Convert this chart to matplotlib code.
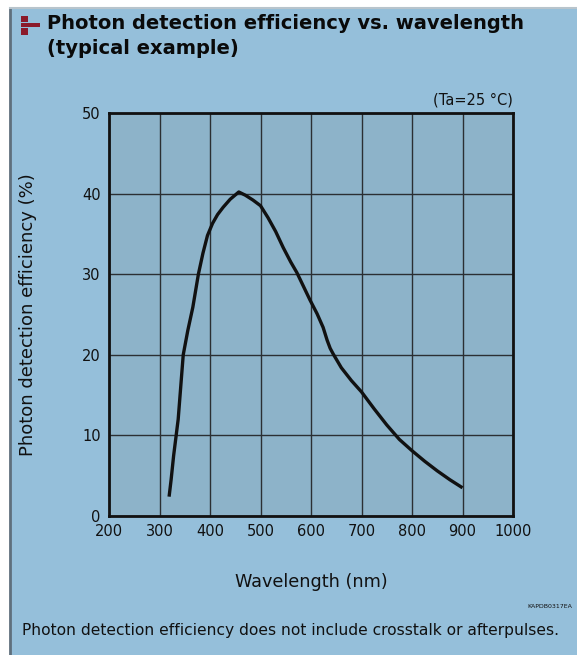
import numpy as np
import matplotlib
matplotlib.use("Agg")
import matplotlib.pyplot as plt
from matplotlib.patches import Rectangle

# data
wavelength = [319, 323, 328, 333, 337, 342, 347, 356, 366, 377, 386, 395, 405,
              415, 426, 440, 457, 470, 485, 500, 515, 530, 545, 560, 572, 585,
              598, 612, 624, 632, 638, 644, 660, 680, 700, 725, 750, 775, 800,
              825, 850, 875, 900]
pde = [2.4, 4.5, 7.5, 10.0, 12.0, 16.0, 20.0, 23.0, 25.9, 30.0, 32.6, 34.8, 36.3,
       37.4, 38.3, 39.3, 40.2, 39.8, 39.2, 38.5, 37.0, 35.3, 33.3, 31.5, 30.2, 28.5,
       26.8, 25.1, 23.4, 21.8, 20.8, 20.1, 18.4, 16.8, 15.4, 13.3, 11.3, 9.5, 8.1,
       6.8, 5.6, 4.5, 3.5]

x_ticks = [200, 300, 400, 500, 600, 700, 800, 900, 1000]
y_ticks = [0, 10, 20, 30, 40, 50]

title = "Photon detection efficiency vs. wavelength\n(typical example)"
note = "Photon detection efficiency does not include crosstalk or afterpulses."

W, H = 577, 655
panel_color = "#95bfda"
plot_color = "#8db3c9"

fig = plt.figure(figsize=(W / 100, H / 100), dpi=100)
fig.patch.set_facecolor("white")


def px(x, y):
    return x / W, 1 - y / H


# background panel and frame lines
fig.patches.append(Rectangle((10 / W, 0), 1, 1 - 8 / H, transform=fig.transFigure,
                             facecolor=panel_color, edgecolor="none", zorder=-10))
fig.lines.append(plt.Line2D([10 / W, 10 / W], [0, 1 - 8 / H], transform=fig.transFigure,
                            color="#5f6f7c", lw=2))
fig.lines.append(plt.Line2D([10 / W, 1], [1 - 8 / H, 1 - 8 / H], transform=fig.transFigure,
                            color="#b8c4cc", lw=1.5))

# little red icon beside the title (three blocks with thin gaps)
icon = "#8b1a2a"
for (x0, y0, w, h) in [(21, 15.5, 6.5, 6), (21, 22.5, 19, 4.5), (21, 28, 6.5, 7)]:
    fig.patches.append(Rectangle((x0 / W, 1 - (y0 + h) / H), w / W, h / H,
                                 transform=fig.transFigure, facecolor=icon,
                                 edgecolor="none"))

fig.text(*px(47, 14), title, fontsize=14, fontweight="bold", va="top", ha="left",
         color="#0a0a0a", linespacing=1.42)

ax = fig.add_axes([109 / W, 1 - 516 / H, 404 / W, 403 / H])
ax.set_facecolor(plot_color)
ax.plot(wavelength, pde, color="#111111", lw=2.4, solid_capstyle="butt")

ax.set_xlim(200, 1000)
ax.set_ylim(0, 50)
ax.set_xticks(x_ticks)
ax.set_yticks(y_ticks)
ax.tick_params(length=0, labelsize=10.5, colors="#111111")
ax.tick_params(axis="x", pad=6)
ax.tick_params(axis="y", pad=6)
ax.grid(True, color="#2b2f33", lw=1)
ax.set_axisbelow(True)
for s in ax.spines.values():
    s.set_linewidth(2)
    s.set_color("#111111")

ax.set_xlabel("Wavelength (nm)", fontsize=12.7, labelpad=24, color="#111111")
ax.set_ylabel("Photon detection efficiency (%)", fontsize=13, labelpad=32,
              color="#111111")

fig.text(*px(513, 100), "(Ta=25 °C)", fontsize=10.5, ha="right", va="center",
         color="#111111")
fig.text(*px(572, 607), "KAPDB0317EA", fontsize=4.5, ha="right", va="center",
         color="#111111")
fig.text(*px(22, 631), note, fontsize=11.2, ha="left", va="center", color="#111111")

fig.savefig("out.png", dpi=100, facecolor=fig.get_facecolor())
